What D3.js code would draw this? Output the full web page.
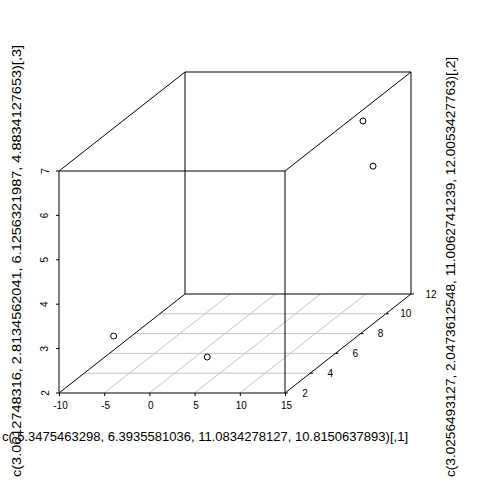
<!DOCTYPE html>
<html><head><meta charset="utf-8">
<script src="https://cdn.jsdelivr.net/npm/d3@7"></script>
<style>body{margin:0;background:#fff}svg{display:block}text{font-family:"Liberation Sans",Arial,sans-serif}</style>
</head><body><svg id="c" width="480" height="480"></svg>
<script>
// data
const xVals = [-5.35, 6.4, 11.08, 10.8];
const yVals = [3, 2, 11, 12];
const zVals = [3.06, 2.81, 6.12, 4.88];
const xTicks = [-10, -5, 0, 5, 10, 15];
const yTicks = [2, 4, 6, 8, 10, 12];
const zTicks = [2, 3, 4, 5, 6, 7];
const xTitle = "c(-5.3475463298, 6.3935581036, 11.0834278127, 10.8150637893)[,1]";
const yTitle = "c(3.0256493127, 2.0473612548, 11.0062741239, 12.0053427763)[,2]";
const zTitle = "c(3.0612748316, 2.8134562041, 6.1256321987, 4.8834127653)[,3]";

const svg = d3.select("#c");
const x = d3.scaleLinear().domain([-10, 15]).range([59, 285]);
const z = d3.scaleLinear().domain([2, 7]).range([393, 171]);
const yd = d3.scaleLinear().domain([2, 12]).range([0, 1]);
const DX = 126, DY = -99;
const P = (xv, yv, zv) => [x(xv) + yd(yv) * DX, z(zv) + yd(yv) * DY];
const fmt = d => String(d);

const line = (a, b, col, w) => svg.append("line").attr("x1", a[0]).attr("y1", a[1]).attr("x2", b[0]).attr("y2", b[1])
  .attr("stroke", col).attr("stroke-width", w || 1);

// floor grid
xTicks.slice(1, -1).forEach(t => line(P(t, 2, 2), P(t, 12, 2), "#c4c4c4"));
yTicks.slice(1, -1).forEach(t => line(P(-10, t, 2), P(15, t, 2), "#c4c4c4"));

// box
const [x0, x1] = x.domain(), [y0, y1] = yd.domain(), [z0, z1] = z.domain();
[[[x0,y0,z0],[x1,y0,z0]],[[x0,y0,z1],[x1,y0,z1]],[[x0,y0,z0],[x0,y0,z1]],[[x1,y0,z0],[x1,y0,z1]],
 [[x0,y1,z0],[x1,y1,z0]],[[x0,y1,z1],[x1,y1,z1]],[[x0,y1,z0],[x0,y1,z1]],[[x1,y1,z0],[x1,y1,z1]],
 [[x0,y0,z0],[x0,y1,z0]],[[x1,y0,z0],[x1,y1,z0]],[[x0,y0,z1],[x0,y1,z1]],[[x1,y0,z1],[x1,y1,z1]]]
 .forEach(([a, b]) => line(P(...a), P(...b), "#000"));

// x axis
const gx = svg.append("g").attr("transform", "translate(0,393)")
  .call(d3.axisBottom(x).tickValues(xTicks).tickFormat(fmt).tickSize(3).tickPadding(6).tickSizeOuter(0));
gx.select(".domain").remove();
gx.selectAll("text").attr("font-size", 10).attr("fill", "#000").attr("dx", 1);

// z axis
const gz = svg.append("g").attr("transform", "translate(59,0)")
  .call(d3.axisLeft(z).tickValues(zTicks).tickFormat(fmt).tickSize(3).tickSizeOuter(0));
gz.select(".domain").remove();
gz.selectAll(".tick").attr("transform", null);
gz.selectAll(".tick line").attr("y1", d => z(d)).attr("y2", d => z(d));
gz.selectAll("text").attr("font-size", 10).attr("fill", "#000")
  .attr("x", -14).attr("y", d => z(d)).attr("dy", "0.35em").attr("text-anchor", "middle")
  .attr("transform", d => `rotate(-90,-14,${z(d)})`);

// y axis (depth)
yTicks.forEach(t => {
  const p = P(x1, t, z0);
  line(p, [p[0] + 3, p[1]], "#000");
  svg.append("text").attr("x", p[0] + 20).attr("y", p[1]).attr("dy", "0.35em")
    .attr("font-size", 10).attr("text-anchor", "middle").text(t);
});

// points
svg.append("g").selectAll("circle").data(xVals.map((v, i) => P(v, yVals[i], zVals[i])))
  .join("circle").attr("cx", d => d[0]).attr("cy", d => d[1]).attr("r", 3)
  .attr("fill", "none").attr("stroke", "#000").attr("stroke-width", 1);

// axis titles
svg.append("text").attr("x", 2).attr("y", 441).attr("font-size", 12)
  .attr("textLength", 406).attr("lengthAdjust", "spacingAndGlyphs").text(xTitle);
svg.append("text").attr("transform", "translate(17,477) rotate(-90)").attr("font-size", 12).attr("dy", "0.35em")
  .attr("textLength", 432).attr("lengthAdjust", "spacingAndGlyphs").text(zTitle);
svg.append("text").attr("transform", "translate(451,477) rotate(-90)").attr("font-size", 12).attr("dy", "0.35em")
  .attr("textLength", 420).attr("lengthAdjust", "spacingAndGlyphs").text(yTitle);
</script></body></html>
